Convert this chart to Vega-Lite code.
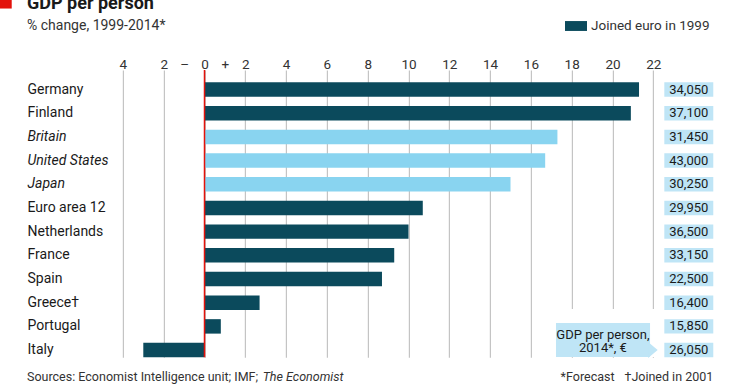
{
  "$schema": "https://vega.github.io/schema/vega-lite/v6.json",
  "width": 591.6,
  "height": 287.3,
  "autosize": {"type": "none"},
  "padding": {"left": 122.9, "top": 70, "right": 25.5, "bottom": 31.7},
  "background": "white",
  "config": {
    "font": "Roboto",
    "view": {"stroke": null},
    "text": {"font": "Roboto"}
  },
  "title": {
    "text": "GDP per person",
    "subtitle": "% change, 1999-2014*",
    "anchor": "start",
    "frame": "group",
    "dx": -95.9,
    "fontSize": 18,
    "fontWeight": "bold",
    "color": "#1a1a1a",
    "subtitleFontSize": 14,
    "subtitleColor": "#333333",
    "subtitlePadding": 6,
    "offset": -40
  },
  "datasets": {
    "gdp": [
      {"country": "Germany", "change": 21.3, "group": "Joined euro in 1999", "gdp2014": "34,050"},
      {"country": "Finland", "change": 20.9, "group": "Joined euro in 1999", "gdp2014": "37,100"},
      {"country": "Britain", "change": 17.3, "group": "Other", "gdp2014": "31,450"},
      {"country": "United States", "change": 16.7, "group": "Other", "gdp2014": "43,000"},
      {"country": "Japan", "change": 15.0, "group": "Other", "gdp2014": "30,250"},
      {"country": "Euro area 12", "change": 10.7, "group": "Joined euro in 1999", "gdp2014": "29,950"},
      {"country": "Netherlands", "change": 10.0, "group": "Joined euro in 1999", "gdp2014": "36,500"},
      {"country": "France", "change": 9.3, "group": "Joined euro in 1999", "gdp2014": "33,150"},
      {"country": "Spain", "change": 8.7, "group": "Joined euro in 1999", "gdp2014": "22,500"},
      {"country": "Greece†", "change": 2.7, "group": "Joined euro in 1999", "gdp2014": "16,400"},
      {"country": "Portugal", "change": 0.8, "group": "Joined euro in 1999", "gdp2014": "15,850"},
      {"country": "Italy", "change": -3.0, "group": "Joined euro in 1999", "gdp2014": "26,050"}
    ]
  },
  "layer": [
    {
      "data": {"values": [{"part": "cover"}]},
      "mark": {"type": "bar", "color": "white", "height": 48, "yOffset": -17},
      "encoding": {
        "x": {"datum": 17.2, "type": "quantitative"},
        "x2": {"datum": 22.5},
        "y": {"datum": "Italy", "type": "nominal"}
      }
    },
    {
      "data": {"name": "gdp"},
      "mark": {"type": "bar"},
      "encoding": {
        "y": {
          "field": "country",
          "type": "nominal",
          "sort": null,
          "scale": {
            "type": "band",
            "domain": ["Germany", "Finland", "Britain", "United States", "Japan", "Euro area 12", "Netherlands", "France", "Spain", "Greece†", "Portugal", "Italy"],
            "paddingInner": 0.39,
            "paddingOuter": 0.26,
            "align": 1
          },
          "axis": {
            "title": null,
            "orient": "left",
            "domain": false,
            "ticks": false,
            "tickSize": 0,
            "labelAlign": "left",
            "labelPadding": 95.9,
            "labelFontSize": 14,
            "labelColor": "#1a1a1a",
            "labelFontStyle": {
              "condition": {"test": "indexof(['Britain','United States','Japan'], datum.value) >= 0", "value": "italic"},
              "value": "normal"
            }
          }
        },
        "x": {
          "field": "change",
          "type": "quantitative",
          "scale": {"domain": [-4, 25], "nice": false, "zero": false},
          "axis": {
            "title": null,
            "orient": "top",
            "values": [-4, -2, -1, 0, 1, 2, 4, 6, 8, 10, 12, 14, 16, 18, 20, 22],
            "tickCount": 40,
            "labelExpr": "datum.value == -1 ? '–' : datum.value == 1 ? '+' : format(abs(datum.value), 'd')",
            "domain": false,
            "ticks": false,
            "tickSize": 0,
            "labelPadding": 2,
            "labelBaseline": "alphabetic",
            "labelFontSize": 13.5,
            "labelColor": "#333333",
            "labelFlush": false,
            "labelOverlap": false,
            "grid": true,
            "gridWidth": 1.2,
            "gridColor": {
              "condition": {"test": "datum.value == -1 || datum.value == 1", "value": "transparent"},
              "value": "#c4c4c4"
            }
          }
        },
        "x2": {"datum": 0},
        "color": {
          "field": "group",
          "type": "nominal",
          "scale": {"domain": ["Joined euro in 1999", "Other"], "range": ["#0b4a5c", "#89d4f0"]},
          "legend": {
            "title": null,
            "values": ["Joined euro in 1999"],
            "orient": "none",
            "legendX": 442.1,
            "legendY": -55,
            "symbolType": "M-1,-0.45H1V0.45H-1Z",
            "symbolSize": 484,
            "symbolStrokeWidth": 0,
            "labelFontSize": 13.5,
            "labelColor": "#333333",
            "labelOffset": 4
          }
        }
      }
    },
    {
      "data": {"values": [{"part": "zero"}]},
      "mark": {"type": "rule", "color": "#e3120b", "strokeWidth": 1.5},
      "encoding": {"x": {"datum": 0, "type": "quantitative"}}
    },
    {
      "data": {"name": "gdp"},
      "mark": {"type": "bar", "color": "#bfe5f6"},
      "encoding": {
        "y": {"field": "country", "type": "nominal", "sort": null},
        "x": {"datum": 22.54, "type": "quantitative"},
        "x2": {"datum": 24.94}
      }
    },
    {
      "data": {"name": "gdp"},
      "mark": {"type": "text", "fontSize": 13, "color": "#1a1a1a", "align": "center", "baseline": "middle"},
      "encoding": {
        "y": {"field": "country", "type": "nominal", "sort": null},
        "x": {"datum": 23.74, "type": "quantitative"},
        "text": {"field": "gdp2014"}
      }
    },
    {
      "data": {"values": [{"part": "callout"}]},
      "mark": {"type": "bar", "color": "#bfe5f6", "height": 34, "yOffset": -10},
      "encoding": {
        "x": {"datum": 17.23, "type": "quantitative"},
        "x2": {"datum": 21.84},
        "y": {"datum": "Italy", "type": "nominal"}
      }
    },
    {
      "data": {"values": [{"part": "arrow"}]},
      "mark": {"type": "point", "filled": true, "color": "#bfe5f6", "opacity": 1, "shape": "M-0.6,-1L0.6,0L-0.6,1Z", "size": 256},
      "encoding": {
        "x": {"datum": 21.98, "type": "quantitative"},
        "y": {"datum": "Italy", "type": "nominal"}
      }
    },
    {
      "data": {"values": [{"note": ["GDP per person,", "2014*, €"]}]},
      "mark": {"type": "text", "fontSize": 13, "color": "#1a1a1a", "align": "center", "baseline": "middle", "lineHeight": 13.5, "dy": -15.1},
      "encoding": {
        "x": {"datum": 19.53, "type": "quantitative"},
        "y": {"datum": "Italy", "type": "nominal"},
        "text": {"field": "note"}
      }
    },
    {
      "data": {"values": [{"note": "Sources: Economist Intelligence unit; IMF;"}]},
      "mark": {"type": "text", "fontSize": 12.5, "color": "#333333", "align": "left", "baseline": "middle", "dy": 27},
      "encoding": {
        "x": {"datum": -8.7, "type": "quantitative"},
        "y": {"datum": "Italy", "type": "nominal"},
        "text": {"field": "note"}
      }
    },
    {
      "data": {"values": [{"note": "The Economist"}]},
      "mark": {"type": "text", "fontSize": 12.5, "fontStyle": "italic", "color": "#333333", "align": "left", "baseline": "middle", "dy": 27},
      "encoding": {
        "x": {"datum": 2.85, "type": "quantitative"},
        "y": {"datum": "Italy", "type": "nominal"},
        "text": {"field": "note"}
      }
    },
    {
      "data": {"values": [{"note": "*Forecast"}]},
      "mark": {"type": "text", "fontSize": 12.5, "color": "#333333", "align": "right", "baseline": "middle", "dy": 27},
      "encoding": {
        "x": {"datum": 20.1, "type": "quantitative"},
        "y": {"datum": "Italy", "type": "nominal"},
        "text": {"field": "note"}
      }
    },
    {
      "data": {"values": [{"note": "†Joined in 2001"}]},
      "mark": {"type": "text", "fontSize": 12.5, "color": "#333333", "align": "right", "baseline": "middle", "dy": 27},
      "encoding": {
        "x": {"datum": 24.94, "type": "quantitative"},
        "y": {"datum": "Italy", "type": "nominal"},
        "text": {"field": "note"}
      }
    },
    {
      "data": {"values": [{"part": "logo"}]},
      "mark": {"type": "bar", "color": "#e3120b", "height": 16, "yOffset": -89},
      "encoding": {
        "x": {"datum": -10.05, "type": "quantitative"},
        "x2": {"datum": -9.45},
        "y": {"datum": "Germany", "type": "nominal"}
      }
    }
  ]
}
